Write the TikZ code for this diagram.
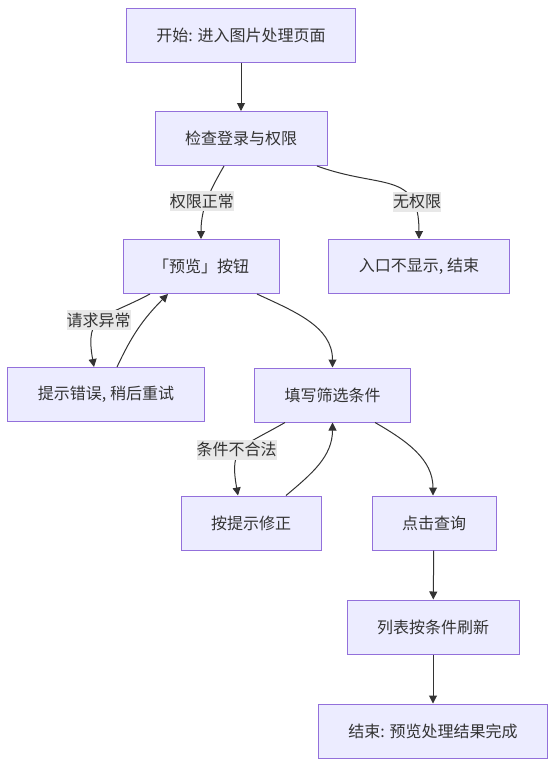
\documentclass[tikz,border=0pt]{standalone}
\usepackage{fontspec}
\setmainfont{Noto Sans CJK SC}
\usetikzlibrary{arrows.meta}
\usetikzlibrary{quotes}
\definecolor{boxfill}{HTML}{ECECFF}
\definecolor{boxline}{HTML}{9370DB}
\definecolor{ink}{HTML}{333333}
\definecolor{lblfill}{HTML}{E8E8E8}

\begin{document}
\begin{tikzpicture}
		[x=1pt, y=1pt,
		 box/.style={rectangle, draw=boxline, fill=boxfill, line width=1pt, minimum height=54pt, inner xsep=30pt, text=ink, font=\fontsize{16pt}{19pt}\selectfont},
		 every edge quotes/.style={fill=lblfill, text=ink, inner xsep=0pt, inner ysep=2.5pt, font=\fontsize{16pt}{19pt}\selectfont},
		 flow/.style={->, draw=ink, line width=1pt},
		 >={Triangle[length=8pt, width=8pt]}]
		\useasboundingbox (0,0) rectangle (555,-766);
		\node[box] (start) at (241,-35) {开始: 进入图片处理页面};
		\node[box] (check) at (241,-138.5) {检查登录与权限};
		\node[box] (preview) at (201,-266.5) {「预览」按钮};
		\node[box] (noperm) at (419,-266.5) {入口不显示, 结束};
		\node[box] (error) at (106,-394.5) {提示错误, 稍后重试};
		\node[box] (filter) at (332.5,-395) {填写筛选条件};
		\node[box] (fix) at (251,-523) {按提示修正};
		\node[box] (query) at (434,-523) {点击查询};
		\node[box] (refresh) at (433,-627) {列表按条件刷新};
		\node[box] (finish) at (433,-731) {结束: 预览处理结果完成};

		\draw[flow] (start) -- (check);
		\draw[flow] ([xshift=-17pt]check.south) to[out=-120, in=90, "权限正常" {xshift=-5pt}] (preview.north);
		\draw[flow] ([xshift=76pt]check.south) to[out=-20, in=90, looseness=1.4, "无权限" {pos=0.75, xshift=5pt}] (noperm.north);
		\draw[flow] ([xshift=-51pt]preview.south) to[out=-152, in=100, looseness=1.5, "请求异常" {xshift=-2pt}] ([xshift=-12pt]error.north);
		\draw[flow] ([xshift=11pt]error.north) to[out=65, in=-135] ([xshift=-33pt]preview.south);
		\draw[flow] ([xshift=56pt]preview.south) to[out=-25, in=90] (filter.north);
		\draw[flow] ([xshift=-47.5pt]filter.south) to[out=-150, in=100, looseness=1.5, "条件不合法" {xshift=-5pt}] ([xshift=-13pt]fix.north);
		\draw[flow] ([xshift=35pt]fix.north) to[out=40, in=-90] (filter.south);
		\draw[flow] ([xshift=42.5pt]filter.south) to[out=-30, in=90] ([xshift=-1pt]query.north);
		\draw[flow] (query) -- (refresh);
		\draw[flow] (refresh) -- (finish);
	\end{tikzpicture}
\end{document}
